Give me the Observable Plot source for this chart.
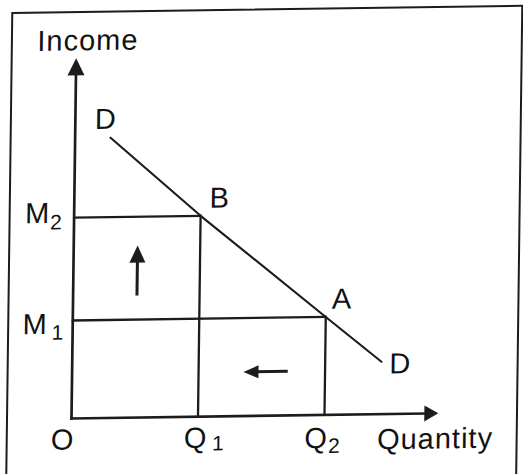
<!DOCTYPE html>
<html>
<head>
<meta charset="utf-8">
<script src="https://cdn.jsdelivr.net/npm/d3@7"></script>
<script src="https://cdn.jsdelivr.net/npm/@observablehq/plot@0.6"></script>
<style>
html, body { margin: 0; padding: 0; background: #fff; overflow: hidden; width: 523px; height: 474px; }
#wrap { position: relative; width: 523px; height: 474px; transform-origin: 71px 418px; transform: matrix(1, -0.014, -0.013, 1, 0, 0); }
#border { position: absolute; left: 6px; top: 11px; width: 512px; height: 540px; border: 2.7px solid #1c1c1c; box-sizing: border-box; pointer-events: none; }
#chart svg { display: block; }
</style>
</head>
<body>
<div id="wrap"><div id="chart"></div><div id="border"></div></div>
<script>
// ---- data ----
const demandQ = [0.56, 2, 4, 4.89];          // quantity along the demand curve D–D
const demandM = [5.72, 4.1, 2, 1.07];        // income along the demand curve
const curveLabels = ["D", "B", "A", "D"];
const qLevels = [2, 4];                      // Q1, Q2
const qSubs = ["1", "2"];
const mLevels = [2, 4.1];                    // M1, M2
const mSubs = ["1", "2"];
const axisMax = [5.8, 7.35];                 // end of quantity axis, end of income axis
const axisTitles = ["Quantity", "Income"];
const originLabel = "O";
const upArrow = [1.01, 2.49, 3.51];          // quantity, income from, income to
const leftArrow = [0.9, 3.41, 2.71];         // income, quantity from, quantity to

// ---- helpers ----
const ink = "#1c1c1c";
const textInk = "#121212";
function head(dir, len, wid) {
  return {
    draw(ctx) {
      let pts;
      if (dir === "up") pts = [[0, 0], [-wid / 2, len], [wid / 2, len]];
      else if (dir === "right") pts = [[0, 0], [-len, -wid / 2], [-len, wid / 2]];
      else pts = [[0, 0], [len, -wid / 2], [len, wid / 2]];
      ctx.moveTo(pts[0][0], pts[0][1]);
      ctx.lineTo(pts[1][0], pts[1][1]);
      ctx.lineTo(pts[2][0], pts[2][1]);
      ctx.closePath();
    }
  };
}
function lab(text, x, y, dx, dy, size = 29, anchor = "middle") {
  return Plot.text([{x, y, text}], {
    x: "x", y: "y", text: "text", dx, dy, fontSize: size,
    textAnchor: anchor, lineAnchor: "bottom", fill: textInk
  });
}

const demand = demandQ.map((q, i) => ({q, m: demandM[i], label: curveLabels[i]}));
const B = demand[1], A = demand[2];
const guides = [
  {x1: 0, y1: mLevels[1], x2: qLevels[0], y2: mLevels[1]},
  {x1: 0, y1: mLevels[0], x2: qLevels[1], y2: mLevels[0]},
  {x1: qLevels[0], y1: 0, x2: qLevels[0], y2: mLevels[1]},
  {x1: qLevels[1], y1: 0, x2: qLevels[1], y2: mLevels[0]}
];
const axes = [
  {x1: 0, y1: 0, x2: axisMax[0] - 0.2, y2: 0},
  {x1: 0, y1: 0, x2: 0, y2: axisMax[1] - 0.25}
];

const chart = Plot.plot({
  width: 523,
  height: 474,
  marginLeft: 71,
  marginRight: 9.25,
  marginTop: 26,
  marginBottom: 56,
  x: {domain: [0, 7], axis: null},
  y: {domain: [0, 8], axis: null},
  style: {background: "transparent", fontFamily: "'Liberation Sans', Arial, sans-serif", letterSpacing: "1px"},
  marks: [
    Plot.link(guides, {x1: "x1", y1: "y1", x2: "x2", y2: "y2", stroke: ink, strokeWidth: 2.3, strokeLinecap: "square"}),
    Plot.line(demand, {x: "q", y: "m", stroke: ink, strokeWidth: 2.1}),
    Plot.link(axes, {x1: "x1", y1: "y1", x2: "x2", y2: "y2", stroke: ink, strokeWidth: 2.7, strokeLinecap: "square"}),
    Plot.dot([{x: 0, y: axisMax[1]}], {x: "x", y: "y", symbol: head("up", 17, 17), fill: ink, stroke: "none"}),
    Plot.dot([{x: axisMax[0], y: 0}], {x: "x", y: "y", symbol: head("right", 14, 16), fill: ink, stroke: "none"}),
    // movement arrows
    Plot.link([{x: upArrow[0], y1: upArrow[1], y2: upArrow[2] - 0.2}], {x1: "x", x2: "x", y1: "y1", y2: "y2", stroke: ink, strokeWidth: 3}),
    Plot.dot([{x: upArrow[0], y: upArrow[2]}], {x: "x", y: "y", symbol: head("up", 17, 16), fill: ink, stroke: "none"}),
    Plot.link([{y: leftArrow[0], x1: leftArrow[1], x2: leftArrow[2] + 0.15}], {y1: "y", y2: "y", x1: "x1", x2: "x2", stroke: ink, strokeWidth: 3}),
    Plot.dot([{x: leftArrow[2], y: leftArrow[0]}], {x: "x", y: "y", symbol: head("left", 15, 13), fill: ink, stroke: "none"}),
    // curve labels
    lab(demand[0].label, demand[0].q, demand[0].m, -5, -9),
    lab(B.label, B.q, B.m, 19, -8),
    lab(A.label, A.q, A.m, 16, -8),
    lab(demand[3].label, demand[3].q, demand[3].m, 19, 12),
    // income levels
    lab("M", 0, mLevels[1], -49, 5, 29, "start"),
    lab(mSubs[1], 0, mLevels[1], -24, 11.5, 21, "start"),
    lab("M", 0, mLevels[0], -50, 13, 29, "start"),
    lab(mSubs[0], 0, mLevels[0], -21, 19, 21, "start"),
    // quantity levels
    lab(originLabel, 0, 0, -8.5, 31),
    lab("Q", qLevels[0], 0, -2, 31),
    lab(qSubs[0], qLevels[0], 0, 14.5, 34, 21, "start"),
    lab("Q", qLevels[1], 0, -8, 33),
    lab(qSubs[1], qLevels[1], 0, 4, 38, 21, "start"),
    // axis titles
    lab(axisTitles[0], axisMax[0], 0, -61, 35, 29, "start"),
    lab(axisTitles[1], 0, axisMax[1], -39, -8, 29, "start")
  ]
});
document.getElementById("chart").appendChild(chart);
</script>
</body>
</html>
